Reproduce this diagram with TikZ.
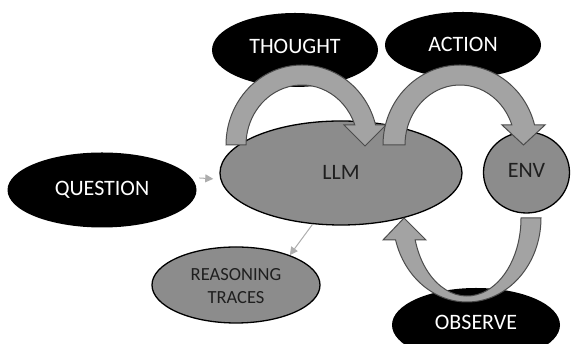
\documentclass[tikz,border=0pt]{standalone}
\usepackage{fontspec}
\setmainfont{Carlito}
\usetikzlibrary{shapes.geometric,arrows.meta}
\definecolor{llmgray}{gray}{0.55}
\definecolor{arrowgray}{gray}{0.64}
\definecolor{linkgray}{gray}{0.68}
\begin{document}
\begin{tikzpicture}[x=1pt,y=1pt,
  blackell/.style={ellipse, fill=black, draw=none, inner sep=0pt},
  grayell/.style={ellipse, fill=llmgray, draw=black, line width=1.3pt, inner sep=0pt},
  wtxt/.style={text=white, font=\fontsize{22}{24}\selectfont, inner sep=0pt},
  btxt/.style={text=black!88, font=\fontsize{22}{24}\selectfont, inner sep=0pt},
  blockarrow/.style={fill=arrowgray, draw=black!70, line width=1pt, line join=miter},
  connector/.style={draw=linkgray, line width=1pt, -{Triangle[length=8pt,width=8pt]}}
]
\useasboundingbox (0,0) rectangle (571,344);

% black ellipses
\node[blackell, minimum width=189pt, minimum height=75pt] (question) at (102,154) {};
\node[blackell, minimum width=166pt, minimum height=74pt] (thought) at (295,294) {};
\node[blackell, minimum width=156pt, minimum height=66pt] (action) at (463,299) {};
\node[blackell, minimum width=168pt, minimum height=74pt] (observe) at (476,19) {};

% gray ellipses
\node[grayell, minimum width=242pt, minimum height=104pt] (llm) at (341,171) {};
\node[grayell, minimum width=86pt, minimum height=81pt] (env) at (526.5,171.5) {};
\node[grayell, minimum width=168pt, minimum height=76pt] (reason) at (236,59) {};

% block arrows
\draw[blockarrow] (226,199) arc[start angle=180, end angle=14.5, x radius=76pt, y radius=80pt]
  -- (386,219) -- (365,198) -- (344,219) -- (354.8,219)
  arc[start angle=19.47, end angle=180, x radius=56pt, y radius=60pt] -- cycle;
\draw[blockarrow] (383,199) arc[start angle=180, end angle=14.5, x radius=77pt, y radius=80pt]
  -- (545,219) -- (523.5,199) -- (502,219) -- (511.85,219)
  arc[start angle=19.47, end angle=180, x radius=55pt, y radius=60pt] -- cycle;
\draw[blockarrow] (541,126) arc[start angle=0, end angle=-164.82, x radius=74pt, y radius=84pt]
  -- (383,104) -- (404,126) -- (426,104) -- (415.2,104)
  arc[start angle=-163.62, end angle=0, x radius=54pt, y radius=78pt] -- cycle;

% texts
\node[wtxt] (qtext) at (102,154.5) {QUESTION};
\node[wtxt] (ttext) at (295,298) {THOUGHT};
\node[wtxt] (atext) at (463,299.5) {ACTION};
\node[wtxt] (otext) at (476,21.5) {OBSERVE};
\node[btxt] (ltext) at (341,172) {LLM};
\node[btxt] (etext) at (526.5,173.5) {ENV};
\node[btxt, font=\fontsize{18.5}{23}\selectfont, align=center] (rtext) at (236,58) {REASONING\\TRACES};

% connectors
\draw[connector, shorten <=8pt, shorten >=7pt] (question.8) -- (llm.183);
\draw[connector] (llm.241) -- (reason.29);
\end{tikzpicture}
\end{document}
